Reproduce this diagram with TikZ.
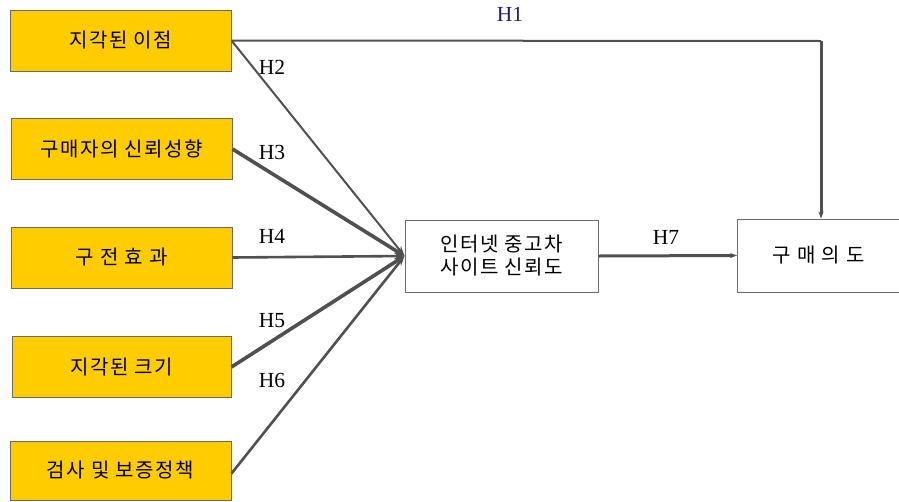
\documentclass[tikz,border=0pt]{standalone}
\usepackage{fontspec}
\setmainfont{Liberation Serif}
\newfontfamily\kr[LetterSpace=8]{Noto Sans CJK KR}
\usetikzlibrary{arrows.meta}
\definecolor{boxgold}{HTML}{FFCC00}
\definecolor{edgegray}{HTML}{6A6A6A}
\definecolor{linegray}{HTML}{505050}
\definecolor{hnavy}{HTML}{1C1C7C}
\begin{document}
\begin{tikzpicture}[x=1pt,y=-1pt,
  factor/.style={draw=edgegray,line width=1pt,fill=boxgold,minimum width=221pt,minimum height=61pt,
    inner sep=0pt,font=\kr\fontsize{20}{23}\selectfont},
  plainbox/.style={draw=edgegray,line width=1pt,fill=white,inner sep=0pt,align=center,
    font=\kr\fontsize{20}{23}\selectfont},
  link/.style={draw=linegray},
  tip/.style={-{Stealth[length=10pt,width=7pt]}},
  smalltip/.style={-{Stealth[length=7pt,width=5pt]}},
  hlabel/.style={font=\fontsize{21.5}{23}\selectfont,anchor=center}]
\useasboundingbox (0,0) rectangle (899,501);

% source factors
\node[factor] (benefit) at (120.5,40.5) {지각된 이점};
\node[factor] (trust)   at (121.5,149) {구매자의 신뢰성향};
\node[factor] (wom)     at (121.5,257.5) {구 전 효 과};
\node[factor,minimum width=219pt] (size) at (121.5,367) {지각된 크기};
\node[factor,minimum height=59pt] (policy) at (120.5,470.5) {검사 및 보증정책};

% mediator and outcome
\node[plainbox,minimum width=193pt,minimum height=72pt] (site) at (501.5,256) {인터넷 중고차\\사이트 신뢰도};
\node[plainbox,minimum width=162pt,minimum height=73pt] (intent) at (818.5,255.5) {구 매 의 도};

% paths into the mediator
\draw[link,line width=2pt,tip]   (benefit.east) -- (site.west);
\draw[link,line width=3.6pt,tip] (trust.east)   -- (site.west);
\draw[link,line width=2.6pt,tip] (wom.east)     -- (site.west);
\draw[link,line width=3.6pt,tip] (size.east)    -- (site.west);
\draw[link,line width=2.6pt,tip] ([yshift=-3pt]policy.east) -- (site.west);

% direct path H1
\coordinate (turn) at (821,41);
\draw[link,line width=2pt] (benefit.east) -- (turn);
\draw[link,line width=3pt,smalltip] (turn) -- (turn |- intent.north);

% path H7
\draw[link,line width=3pt,smalltip] (site.east) -- (intent.west);

% hypothesis labels
\node[hlabel,text=hnavy] (h1) at (510,14) {H1};
\node[hlabel] (h2) at (272,67) {H2};
\node[hlabel] (h3) at (272,152) {H3};
\node[hlabel] (h4) at (272,236) {H4};
\node[hlabel] (h5) at (272,321) {H5};
\node[hlabel] (h6) at (272,380) {H6};
\node[hlabel] (h7) at (666,237) {H7};
\end{tikzpicture}
\end{document}
